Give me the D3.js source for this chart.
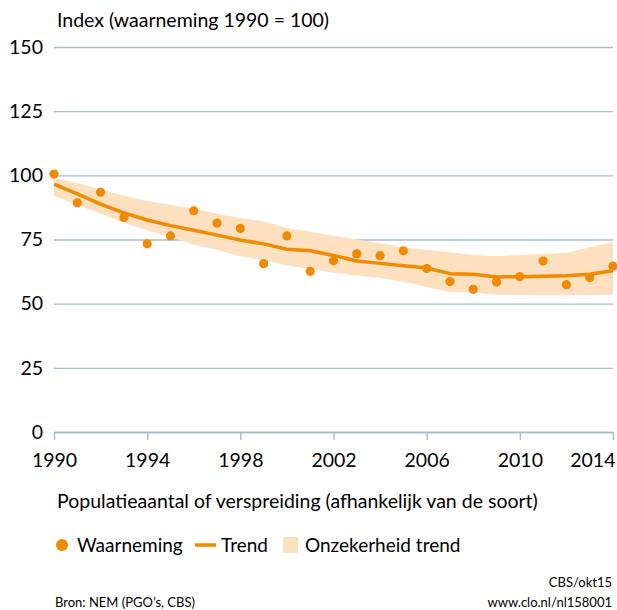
<!DOCTYPE html>
<html>
<head>
<meta charset="utf-8">
<script src="https://cdn.jsdelivr.net/npm/d3@7"></script>
<style>
  body { margin: 0; background: #fff; }
  svg { display: block; font-family: Lato, "Open Sans", sans-serif; }
</style>
</head>
<body>
<svg id="chart" width="617" height="610"></svg>
<script>
// waarneming (observed index) and trend with its uncertainty band
var years = d3.range(1990, 2015);
var waarneming = [100.5, 89.3, 93.4, 83.6, 73.3, 76.4, 86.2, 81.4, 79.3, 65.6, 76.4, 62.6,
                  66.7, 69.4, 68.7, 70.6, 63.7, 58.6, 55.6, 58.4, 60.5, 66.6, 57.4, 60.2, 64.6];
var trend = [96.6, 92.8, 88.8, 85.4, 82.6, 80.4, 78.6, 76.7, 74.8, 73.3, 71.2, 70.6,
             68.8, 66.6, 65.7, 64.8, 63.9, 61.7, 61.5, 60.4, 60.5, 60.7, 60.9, 61.5, 62.8];
var upper = [99, 97, 94.5, 92, 90, 88.5, 87, 85, 83.4, 82, 79.5, 78,
             76.5, 75, 73.5, 72, 71, 70, 69, 68.5, 69, 69.3, 69.8, 72, 74];
var lower = [92, 88.5, 85, 81.5, 78.5, 76, 73, 71, 68.5, 67, 65, 63.5,
             62, 61, 60, 58.5, 56.5, 54.5, 54.3, 53.5, 53.4, 53.3, 53.3, 53.4, 53.5];
var yTicks = [0, 25, 50, 75, 100, 125, 150];
var xTicks = [1990, 1994, 1998, 2002, 2006, 2010, 2014];

var orange = "#f08a00",
    band = "#fde0c0",
    grid = "#a3bccf";

var svg = d3.select("#chart");

var x = d3.scaleLinear().domain([1990, 2014]).range([54, 613]);
var y = d3.scaleLinear().domain([0, 150]).range([432, 47]);

// gridlines + y labels
var yAxis = svg.append("g")
    .attr("transform", "translate(54,0)")
    .call(d3.axisLeft(y).tickValues(yTicks).tickSize(-(613 - 54)).tickPadding(11));
yAxis.select(".domain").remove();
yAxis.selectAll("line").attr("stroke", grid).attr("stroke-width", 1.4);
yAxis.selectAll("text").attr("font-size", 19.5).attr("fill", "#000")
    .attr("font-family", "Lato, 'Open Sans', sans-serif");

// x axis with ticks pointing down
var xAxis = svg.append("g")
    .attr("transform", "translate(0," + y(0) + ")")
    .call(d3.axisBottom(x).tickValues(xTicks).tickFormat(d3.format("d")).tickSize(8).tickPadding(13).tickSizeOuter(0));
xAxis.select(".domain").attr("stroke", grid).attr("stroke-width", 1.4);
xAxis.selectAll("line").attr("stroke", grid).attr("stroke-width", 1.4);
xAxis.selectAll("text").attr("font-size", 19.5).attr("fill", "#000")
    .attr("font-family", "Lato, 'Open Sans', sans-serif");
// last label kept inside the picture
xAxis.selectAll(".tick").filter(function(d) { return d === 2014; }).select("text")
    .attr("text-anchor", "end").attr("x", 615 - x(2014));

// uncertainty band
var area = d3.area()
    .x(function(d, i) { return x(years[i]); })
    .y0(function(d, i) { return y(lower[i]); })
    .y1(function(d, i) { return y(upper[i]); });
svg.append("path").datum(years).attr("d", area).attr("fill", band);

// trend line
var line = d3.line()
    .x(function(d, i) { return x(years[i]); })
    .y(function(d, i) { return y(trend[i]); });
svg.append("path").datum(years).attr("d", line)
    .attr("fill", "none").attr("stroke", orange).attr("stroke-width", 3.5)
    .attr("stroke-linejoin", "round");

// observations
svg.append("g").selectAll("circle")
    .data(waarneming)
  .enter().append("circle")
    .attr("cx", function(d, i) { return x(years[i]); })
    .attr("cy", function(d) { return y(d); })
    .attr("r", 4.6)
    .attr("fill", orange);

// texts
svg.append("text").attr("x", 57).attr("y", 27).attr("font-size", 19.5)
    .text("Index (waarneming 1990 = 100)");
svg.append("text").attr("x", 57).attr("y", 508).attr("font-size", 19.5)
    .text("Populatieaantal of verspreiding (afhankelijk van de soort)");

// legend
var lg = svg.append("g").attr("transform", "translate(0,545)");
lg.append("circle").attr("cx", 62).attr("cy", 0).attr("r", 6).attr("fill", orange);
lg.append("text").attr("x", 77).attr("y", 7).attr("font-size", 19).text("Waarneming");
lg.append("line").attr("x1", 195).attr("x2", 216).attr("y1", 0).attr("y2", 0)
    .attr("stroke", orange).attr("stroke-width", 3.5);
lg.append("text").attr("x", 221).attr("y", 7).attr("font-size", 19).text("Trend");
lg.append("rect").attr("x", 283).attr("y", -8).attr("width", 15).attr("height", 16).attr("fill", band);
lg.append("text").attr("x", 305).attr("y", 7).attr("font-size", 19).text("Onzekerheid trend");

// footer
svg.append("text").attr("x", 55).attr("y", 607).attr("font-size", 13)
    .text("Bron: NEM (PGO\u2019s, CBS)");
svg.append("text").attr("x", 612).attr("y", 587).attr("font-size", 13)
    .attr("text-anchor", "end").text("CBS/okt15");
svg.append("text").attr("x", 612).attr("y", 607).attr("font-size", 13)
    .attr("text-anchor", "end").text("www.clo.nl/nl158001");
</script>
</body>
</html>
